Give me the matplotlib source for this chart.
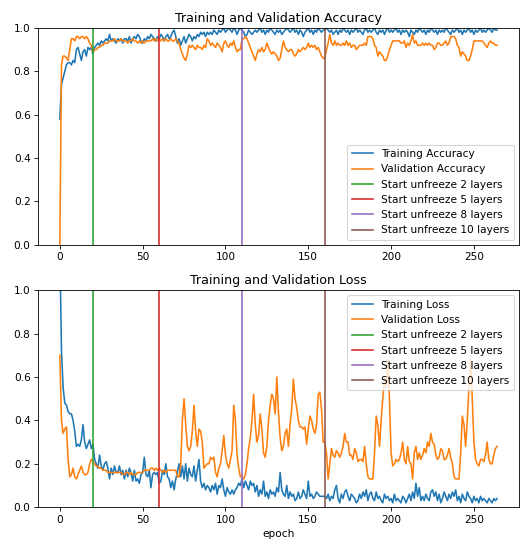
import matplotlib
matplotlib.use('Agg')
import matplotlib.pyplot as plt

# per-epoch values (epochs 0..264)
acc = [
    0.58, 0.74, 0.77, 0.80, 0.83, 0.84, 0.84, 0.83, 0.85, 0.84,
    0.90, 0.91, 0.88, 0.85, 0.89, 0.90, 0.87, 0.91, 0.90, 0.91,
    0.88, 0.91, 0.92, 0.93, 0.92, 0.94, 0.93, 0.94, 0.95, 0.94,
    0.97, 0.94, 0.95, 0.94, 0.93, 0.95, 0.94, 0.95, 0.93, 0.95,
    0.95, 0.94, 0.96, 0.93, 0.95, 0.96, 0.95, 0.97, 0.96, 0.94,
    0.93, 0.95, 0.94, 0.96, 0.95, 0.97, 0.96, 0.95, 0.94, 0.96,
    0.95, 0.97, 0.96, 0.94, 0.96, 0.97, 0.95, 0.96, 0.98, 0.99,
    0.96, 0.93, 0.95, 0.92, 0.94, 0.96, 0.93, 0.95, 0.97, 0.96,
    0.94, 0.96, 0.95, 0.97, 0.96, 0.98, 0.97, 0.98, 0.96, 0.98,
    0.97, 0.98, 0.97, 0.99, 0.98, 0.97, 0.99, 0.98, 0.99, 1.00,
    0.98, 0.99, 1.00, 0.99, 0.98, 1.00, 0.99, 0.97, 0.99, 1.00,
    0.99, 0.98, 0.96, 0.97, 0.99, 0.98, 0.97, 0.98, 0.99, 0.98,
    0.99, 1.00, 0.98, 0.99, 0.97, 0.99, 0.98, 1.00, 0.99, 0.98,
    0.97, 0.99, 0.98, 0.99, 0.97, 0.98, 0.99, 1.00, 0.99, 0.98,
    0.99, 1.00, 0.98, 0.99, 0.97, 0.99, 0.98, 0.96, 0.98, 0.99,
    1.00, 0.98, 0.99, 0.97, 0.99, 0.98, 1.00, 0.99, 0.98, 0.99,
    0.99, 1.00, 0.99, 0.98, 0.99, 0.97, 0.98, 0.99, 0.97, 0.99,
    0.98, 1.00, 0.99, 0.98, 0.99, 0.97, 0.99, 0.98, 0.99, 1.00,
    0.98, 0.99, 0.98, 0.97, 0.99, 1.00, 0.98, 0.99, 0.98, 0.99,
    1.00, 0.98, 0.97, 0.99, 0.98, 0.99, 0.97, 0.99, 1.00, 0.98,
    0.99, 0.98, 0.99, 1.00, 0.98, 0.99, 0.97, 0.99, 0.98, 0.99,
    0.98, 0.96, 0.99, 0.98, 0.97, 0.99, 0.98, 1.00, 0.99, 0.98,
    0.99, 0.97, 0.99, 0.98, 1.00, 0.99, 0.98, 0.99, 0.97, 0.99,
    0.98, 0.99, 0.98, 1.00, 0.99, 0.98, 0.97, 0.99, 0.98, 0.99,
    1.00, 0.98, 0.99, 0.97, 0.99, 0.98, 0.99, 1.00, 0.98, 0.99,
    0.97, 0.99, 0.98, 0.99, 1.00, 0.98, 0.99, 0.98, 0.99, 1.00,
    0.99, 0.98, 1.00, 0.99, 0.99,
]

val_acc = [
    0.00, 0.83, 0.87, 0.87, 0.86, 0.85, 0.90, 0.95, 0.95, 0.94,
    0.96, 0.96, 0.95, 0.96, 0.96, 0.95, 0.96, 0.95, 0.93, 0.92,
    0.89, 0.90, 0.90, 0.91, 0.91, 0.92, 0.92, 0.93, 0.93, 0.93,
    0.94, 0.94, 0.94, 0.95, 0.94, 0.94, 0.94, 0.95, 0.94, 0.94,
    0.94, 0.93, 0.94, 0.94, 0.95, 0.94, 0.94, 0.93, 0.94, 0.93,
    0.94, 0.93, 0.94, 0.94, 0.94, 0.94, 0.95, 0.94, 0.95, 0.94,
    0.95, 0.94, 0.95, 0.94, 0.95, 0.94, 0.94, 0.95, 0.94, 0.94,
    0.95, 0.94, 0.93, 0.90, 0.88, 0.86, 0.85, 0.88, 0.92, 0.91,
    0.92, 0.91, 0.90, 0.92, 0.91, 0.91, 0.90, 0.92, 0.91, 0.95,
    0.94, 0.92, 0.93, 0.92, 0.91, 0.93, 0.92, 0.91, 0.89, 0.93,
    0.94, 0.92, 0.91, 0.93, 0.92, 0.94, 0.91, 0.89, 0.90, 0.90,
    0.95, 0.95, 0.96, 0.95, 0.93, 0.91, 0.89, 0.87, 0.85, 0.88,
    0.90, 0.89, 0.91, 0.89, 0.90, 0.93, 0.91, 0.89, 0.88, 0.89,
    0.88, 0.87, 0.85, 0.86, 0.90, 0.94, 0.91, 0.90, 0.89, 0.90,
    0.90, 0.88, 0.87, 0.88, 0.90, 0.89, 0.90, 0.91, 0.90, 0.91,
    0.93, 0.91, 0.92, 0.91, 0.92, 0.90, 0.91, 0.89, 0.87, 0.86,
    0.86, 0.90, 0.93, 0.97, 0.93, 0.92, 0.94, 0.92, 0.93, 0.92,
    0.92, 0.93, 0.92, 0.94, 0.92, 0.93, 0.91, 0.92, 0.92, 0.90,
    0.91, 0.92, 0.92, 0.92, 0.93, 0.92, 0.96, 0.96, 0.96, 0.95,
    0.92, 0.91, 0.87, 0.89, 0.88, 0.87, 0.85, 0.85, 0.87, 0.90,
    0.92, 0.94, 0.94, 0.94, 0.94, 0.94, 0.93, 0.93, 0.94, 0.91,
    0.93, 0.92, 0.94, 0.97, 0.93, 0.94, 0.92, 0.92, 0.92, 0.93,
    0.92, 0.93, 0.92, 0.93, 0.92, 0.92, 0.90, 0.91, 0.93, 0.93,
    0.92, 0.92, 0.93, 0.94, 0.92, 0.93, 0.96, 0.96, 0.96, 0.95,
    0.92, 0.91, 0.87, 0.89, 0.88, 0.87, 0.85, 0.85, 0.87, 0.90,
    0.94, 0.94, 0.94, 0.94, 0.94, 0.94, 0.93, 0.92, 0.91, 0.93,
    0.94, 0.93, 0.93, 0.92, 0.92,
]

loss = [
    1.20, 0.72, 0.55, 0.48, 0.47, 0.44, 0.43, 0.43, 0.40, 0.35,
    0.28, 0.29, 0.28, 0.31, 0.38, 0.30, 0.27, 0.29, 0.31, 0.27,
    0.29, 0.22, 0.20, 0.18, 0.24, 0.19, 0.17, 0.20, 0.21, 0.18,
    0.13, 0.18, 0.15, 0.19, 0.16, 0.16, 0.19, 0.15, 0.17, 0.13,
    0.17, 0.14, 0.18, 0.16, 0.12, 0.17, 0.12, 0.13, 0.11, 0.15,
    0.16, 0.23, 0.15, 0.14, 0.17, 0.09, 0.15, 0.16, 0.15, 0.16,
    0.11, 0.12, 0.17, 0.15, 0.20, 0.14, 0.13, 0.09, 0.12, 0.08,
    0.13, 0.16, 0.20, 0.14, 0.19, 0.13, 0.20, 0.12, 0.18, 0.15,
    0.14, 0.19, 0.12, 0.17, 0.22, 0.12, 0.09, 0.11, 0.08, 0.10,
    0.09, 0.07, 0.10, 0.08, 0.11, 0.06, 0.10, 0.09, 0.13, 0.08,
    0.05, 0.09, 0.07, 0.06, 0.08, 0.06, 0.08, 0.09, 0.11, 0.10,
    0.13, 0.09, 0.12, 0.10, 0.08, 0.12, 0.10, 0.11, 0.07, 0.10,
    0.05, 0.08, 0.06, 0.12, 0.05, 0.07, 0.04, 0.08, 0.06, 0.07,
    0.05, 0.09, 0.07, 0.16, 0.08, 0.06, 0.05, 0.10, 0.04, 0.07,
    0.05, 0.06, 0.03, 0.04, 0.07, 0.04, 0.05, 0.08, 0.06, 0.04,
    0.12, 0.05, 0.06, 0.04, 0.05, 0.07, 0.06, 0.05, 0.05, 0.05,
    0.05, 0.04, 0.06, 0.03, 0.05, 0.04, 0.08, 0.10, 0.04, 0.02,
    0.06, 0.04, 0.07, 0.08, 0.05, 0.03, 0.06, 0.05, 0.04, 0.02,
    0.03, 0.06, 0.04, 0.07, 0.05, 0.08, 0.03, 0.06, 0.07, 0.04,
    0.03, 0.07, 0.04, 0.05, 0.03, 0.02, 0.06, 0.04, 0.05, 0.03,
    0.04, 0.02, 0.06, 0.03, 0.04, 0.03, 0.02, 0.05, 0.04, 0.02,
    0.04, 0.06, 0.03, 0.07, 0.04, 0.11, 0.05, 0.09, 0.03, 0.05,
    0.03, 0.06, 0.04, 0.03, 0.07, 0.08, 0.05, 0.07, 0.03, 0.06,
    0.02, 0.04, 0.07, 0.05, 0.03, 0.06, 0.04, 0.07, 0.05, 0.08,
    0.03, 0.05, 0.02, 0.06, 0.04, 0.03, 0.07, 0.05, 0.04, 0.02,
    0.05, 0.03, 0.04, 0.02, 0.05, 0.03, 0.04, 0.03, 0.02, 0.04,
    0.03, 0.02, 0.04, 0.03, 0.04,
]

val_loss = [
    0.70, 0.40, 0.34, 0.36, 0.37, 0.22, 0.14, 0.15, 0.18, 0.14,
    0.13, 0.15, 0.17, 0.19, 0.16, 0.15, 0.15, 0.16, 0.20, 0.22,
    0.21, 0.20, 0.19, 0.19, 0.18, 0.18, 0.17, 0.17, 0.17, 0.16,
    0.16, 0.16, 0.16, 0.16, 0.16, 0.16, 0.16, 0.16, 0.15, 0.15,
    0.16, 0.16, 0.15, 0.16, 0.15, 0.15, 0.15, 0.16, 0.16, 0.16,
    0.16, 0.17, 0.17, 0.17, 0.17, 0.18, 0.18, 0.17, 0.18, 0.17,
    0.18, 0.17, 0.16, 0.17, 0.16, 0.17, 0.17, 0.17, 0.17, 0.17,
    0.17, 0.14, 0.14, 0.20, 0.40, 0.50, 0.38, 0.28, 0.26, 0.28,
    0.35, 0.47, 0.35, 0.28, 0.36, 0.35, 0.30, 0.18, 0.19, 0.20,
    0.20, 0.23, 0.22, 0.23, 0.16, 0.14, 0.18, 0.20, 0.26, 0.33,
    0.24, 0.20, 0.18, 0.22, 0.26, 0.47, 0.40, 0.24, 0.18, 0.14,
    0.14, 0.13, 0.15, 0.20, 0.27, 0.32, 0.40, 0.52, 0.38, 0.30,
    0.33, 0.43, 0.36, 0.25, 0.23, 0.28, 0.40, 0.47, 0.52, 0.50,
    0.43, 0.60, 0.44, 0.32, 0.26, 0.28, 0.34, 0.36, 0.28, 0.38,
    0.45, 0.59, 0.50, 0.46, 0.40, 0.37, 0.37, 0.36, 0.37, 0.29,
    0.36, 0.42, 0.40, 0.36, 0.34, 0.38, 0.52, 0.53, 0.45, 0.30,
    0.30, 0.25, 0.13, 0.20, 0.27, 0.24, 0.23, 0.26, 0.25, 0.23,
    0.25, 0.28, 0.34, 0.30, 0.30, 0.24, 0.24, 0.22, 0.27, 0.25,
    0.21, 0.22, 0.22, 0.21, 0.28, 0.20, 0.14, 0.13, 0.13, 0.13,
    0.25, 0.42, 0.38, 0.28, 0.40, 0.50, 0.60, 0.55, 0.68, 0.50,
    0.25, 0.19, 0.20, 0.22, 0.21, 0.22, 0.25, 0.30, 0.22, 0.20,
    0.28, 0.21, 0.20, 0.13, 0.25, 0.28, 0.22, 0.25, 0.22, 0.24,
    0.27, 0.25, 0.30, 0.28, 0.34, 0.30, 0.29, 0.24, 0.22, 0.23,
    0.27, 0.26, 0.22, 0.22, 0.24, 0.27, 0.23, 0.20, 0.14, 0.13,
    0.13, 0.13, 0.25, 0.42, 0.38, 0.28, 0.40, 0.55, 0.68, 0.50,
    0.30, 0.22, 0.20, 0.19, 0.22, 0.22, 0.21, 0.24, 0.30, 0.22,
    0.20, 0.20, 0.24, 0.27, 0.28,
]

unfreeze_epochs = [20, 60, 110, 160]
unfreeze_labels = ['Start unfreeze 2 layers', 'Start unfreeze 5 layers',
                   'Start unfreeze 8 layers', 'Start unfreeze 10 layers']
unfreeze_colors = ['C2', 'C3', 'C4', 'C5']

epochs = list(range(len(acc)))

dpi = 76
fig = plt.figure(figsize=(520 / dpi, 543 / dpi), dpi=dpi)
ax1 = fig.add_axes([0.073, 0.549, 0.925, 0.3996])
ax2 = fig.add_axes([0.073, 0.066, 0.925, 0.3996])

ax1.plot(epochs, acc, label='Training Accuracy')
ax1.plot(epochs, val_acc, label='Validation Accuracy')
for e, lab, c in zip(unfreeze_epochs, unfreeze_labels, unfreeze_colors):
    ax1.axvline(e, color=c, label=lab)
ax1.set_ylim(0, 1)
ax1.legend(loc='lower right')
ax1.set_title('Training and Validation Accuracy')

ax2.plot(list(range(len(loss))), loss, label='Training Loss')
ax2.plot(list(range(len(val_loss))), val_loss, label='Validation Loss')
for e, lab, c in zip(unfreeze_epochs, unfreeze_labels, unfreeze_colors):
    ax2.axvline(e, color=c, label=lab)
ax2.set_ylim(0, 1)
ax2.legend(loc='upper right')
ax2.set_title('Training and Validation Loss')
ax2.set_xlabel('epoch')

fig.savefig('out.png', dpi=dpi)
